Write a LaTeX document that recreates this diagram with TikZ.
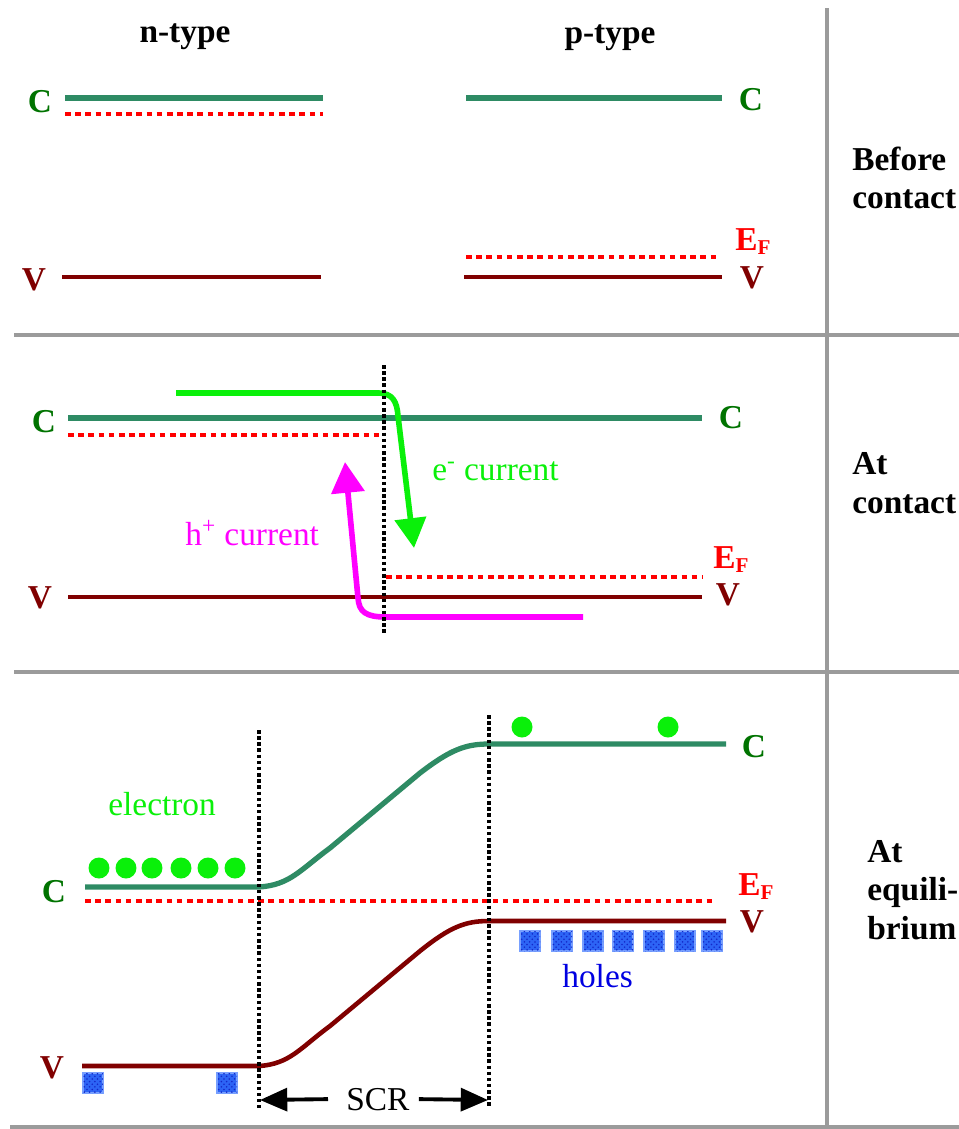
\documentclass[tikz,border=0pt]{standalone}
\usepackage{fontspec}
\setmainfont{Liberation Serif}
\usepackage{tikz}
\usetikzlibrary{arrows.meta,positioning,patterns}
\definecolor{cbandcol}{RGB}{46,139,100}
\definecolor{clabcol}{RGB}{0,115,0}
\definecolor{vbandcol}{RGB}{128,0,0}
\definecolor{ecol}{RGB}{10,240,10}
\definecolor{hcol}{RGB}{255,0,255}
\definecolor{holecol}{RGB}{45,100,245}
\definecolor{holedark}{RGB}{20,40,200}
\definecolor{holeedge}{RGB}{120,160,255}
\definecolor{holetext}{RGB}{0,0,225}
\definecolor{sepgray}{RGB}{155,155,155}
\newcommand{\EF}{E\raisebox{-2.6pt}{\fontsize{12}{12}\selectfont F}}

\begin{document}
\begin{tikzpicture}[x=0.02cm, y=-0.02cm,
    font=\fontsize{19}{22}\selectfont,
    every node/.append style={inner sep=0pt},
    cband/.style={line width=3pt, cbandcol},
    vband/.style={line width=2.6pt, vbandcol},
    fermi/.style={line width=2.5pt, red, dash pattern=on 3.2pt off 2.6pt},
    junction/.style={line width=2pt, dash pattern=on 2pt off 1.5pt},
    sep/.style={line width=2.2pt, sepgray},
    hdr/.style={font=\fontsize{19}{22}\selectfont\bfseries},
    clab/.style={hdr, clabcol},
    vlab/.style={hdr, vbandcol},
    eflab/.style={hdr, red},
    ecur/.style={line width=3.2pt, ecol, -{Triangle[length=17pt,width=17.5pt]}},
    hcur/.style={line width=3.2pt, hcol, -{Triangle[length=17.5pt,width=18.5pt]}},
    scrarrow/.style={line width=2.2pt, -{Triangle[length=15.5pt,width=13pt]}},
    electron/.style={circle, fill=ecol, minimum size=0.42cm},
    hole/.style={rectangle, fill=holecol, draw=holeedge, line width=0.6pt, minimum size=0.4cm,
      postaction={pattern=crosshatch dots, pattern color=holedark}}]
  \useasboundingbox (0,0) rectangle (959,1129);

  % frame
  \draw[sep] (827,8) -- (827,1129);
  \draw[sep] (14,335) -- (959,335);
  \draw[sep] (14,672) -- (959,672);
  \draw[sep] (10,1127) -- (959,1127);

  % before contact
  \node[hdr, anchor=base] (ntype) at (185,42) {n-type};
  \node[hdr, anchor=base] (ptype) at (610,43) {p-type};
  \draw[cband] (65,98) -- (323,98);
  \draw[fermi] (65,114) -- (323,114);
  \draw[vband] (62,277) -- (321,277);
  \draw[cband] (466,98) -- (722,98);
  \draw[fermi] (466,257) -- (717,257);
  \draw[vband] (464,277) -- (722,277);
  \node[clab, anchor=base] (c1n) at (40,112) {C};
  \node[vlab, anchor=base] (v1n) at (34,290) {V};
  \node[clab, anchor=base] (c1p) at (751,110) {C};
  \node[vlab, anchor=base] (v1p) at (752,288) {V};
  \node[eflab, anchor=base west] (ef1) at (735,250) {\EF};
  \node[hdr, anchor=west, align=left] (before) at (852,178) {Before\\contact};

  % at contact
  \draw[cband] (68,418) -- (702,418);
  \draw[fermi] (68,435) -- (380,435);
  \draw[fermi] (386,577) -- (703,577);
  \draw[vband] (68,597) -- (702,597);
  \draw[ecur] (176,393) -- (378,393) .. controls (393,393) and (397,402) .. (398,416) -- (414,548);
  \draw[hcur] (583,617) -- (386,617) .. controls (366,617) and (359,612) .. (358,598) -- (345,462);
  \draw[junction] (384,365) -- (384,635);
  \node[clab, anchor=base] (c2n) at (44,432) {C};
  \node[vlab, anchor=base] (v2n) at (40,608) {V};
  \node[clab, anchor=base] (c2p) at (731,428) {C};
  \node[vlab, anchor=base] (v2p) at (728,605) {V};
  \node[eflab, anchor=base west] (ef2) at (713,568) {\EF};
  \node[ecol, anchor=base west] (elbl) at (432,480) {e\textsuperscript{-} current};
  \node[hcol, anchor=base west] (hlbl) at (185,545) {h\textsuperscript{+} current};
  \node[hdr, anchor=west, align=left] (atcontact) at (852,483) {At\\contact};

  % at equilibrium
  \draw[cband] (85,887) -- (259,887) .. controls (290,885) and (300,870) .. (330,848)
    -- (420,773) .. controls (450,750) and (465,744) .. (489,744) -- (726,744);
  \draw[vband] (82,1066) -- (259,1066) .. controls (290,1064) and (300,1048) .. (330,1026)
    -- (420,951) .. controls (450,927) and (465,921) .. (489,921) -- (726,921);
  \draw[fermi] (85,901) -- (713,901);
  \draw[junction] (259,730) -- (259,1108);
  \draw[junction] (489,715) -- (489,1108);
  \foreach \x in {99,126,152,181,208,235}
    \node[electron] (en\x) at (\x,868) {};
  \foreach \x in {522,668}
    \node[electron] (ep\x) at (\x,727) {};
  \foreach \x in {93,227}
    \node[hole] (hn\x) at (\x,1083) {};
  \foreach \x in {530,562,593,623,654,685,712}
    \node[hole] (hp\x) at (\x,941) {};
  \node[clab, anchor=base] (c3n) at (54,902) {C};
  \node[vlab, anchor=base] (v3n) at (52,1078) {V};
  \node[clab, anchor=base] (c3p) at (754,757) {C};
  \node[vlab, anchor=base] (v3p) at (752,932) {V};
  \node[eflab, anchor=base west] (ef3) at (738,895) {\EF};
  \node[ecol, anchor=base west] (electron) at (108,815) {electron};
  \node[holetext, anchor=base west] (holes) at (562,987) {holes};
  % space charge region
  \coordinate (scrL) at (260,1100);
  \coordinate (scrR) at (488,1100);
  \node[anchor=base west] (scr) at (346,1110) {SCR};
  \draw[scrarrow] ([xshift=-0.36cm]scr.west) -- (scrL);
  \draw[scrarrow] ([xshift=0.18cm]scr.east) -- (scrR);
  \node[hdr, anchor=west, align=left] (atequil) at (867,890) {At\\equili-\\brium};
\end{tikzpicture}
\end{document}
